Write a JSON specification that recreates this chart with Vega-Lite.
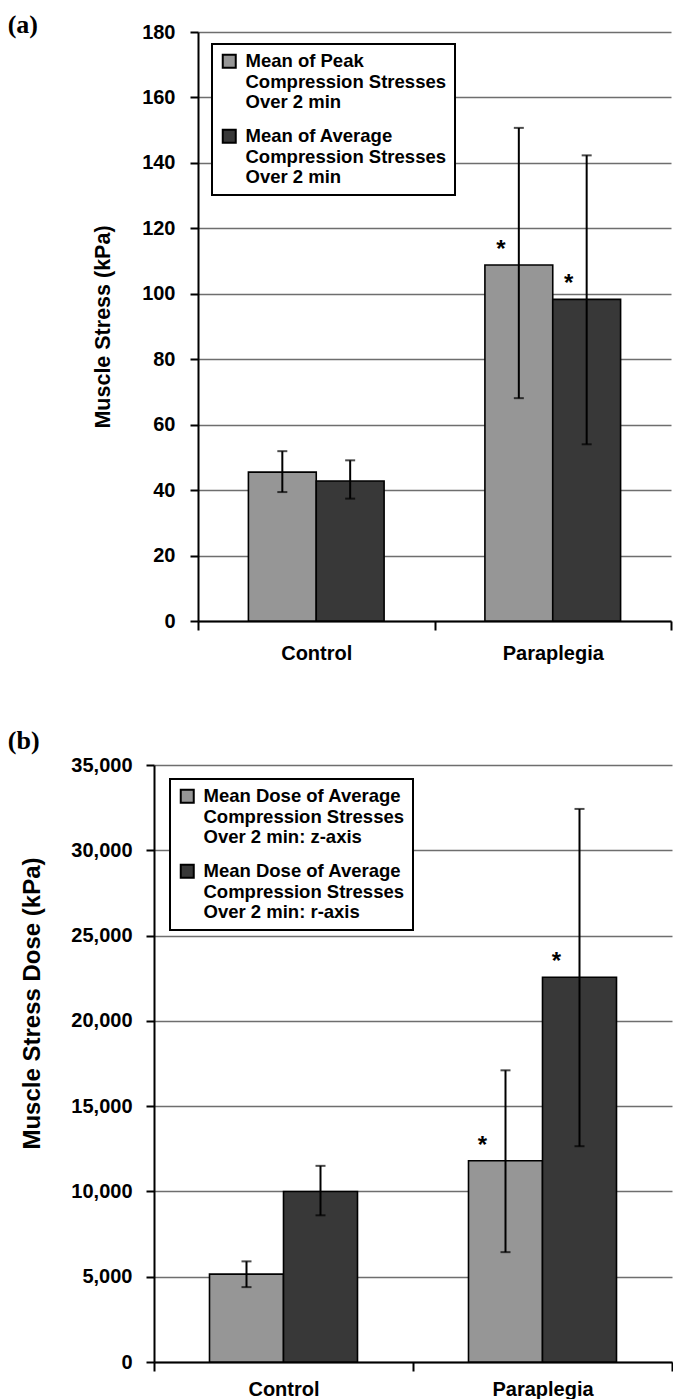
{
  "$schema": "https://vega.github.io/schema/vega-lite/v6.json",
  "padding": {"left": 7, "top": 12, "right": 0, "bottom": 0},
  "background": "white",
  "spacing": 65,
  "resolve": {
    "scale": {"color": "independent", "xOffset": "independent", "x": "independent", "y": "independent"},
    "legend": {"color": "independent"},
    "axis": {"x": "independent", "y": "independent"}
  },
  "datasets": {
    "a": [
      {"group": "Control", "series": "Mean of Peak\nCompression Stresses\nOver 2 min", "value": 45.5, "lo": 39.4, "hi": 51.9, "sig": ""},
      {"group": "Control", "series": "Mean of Average\nCompression Stresses\nOver 2 min", "value": 42.8, "lo": 37.4, "hi": 49.1, "sig": ""},
      {"group": "Paraplegia", "series": "Mean of Peak\nCompression Stresses\nOver 2 min", "value": 108.8, "lo": 68.1, "hi": 150.7, "sig": "*"},
      {"group": "Paraplegia", "series": "Mean of Average\nCompression Stresses\nOver 2 min", "value": 98.3, "lo": 54.0, "hi": 142.3, "sig": "*"}
    ],
    "b": [
      {"group": "Control", "series": "Mean Dose of Average\nCompression Stresses\nOver 2 min: z-axis", "value": 5150, "lo": 4390, "hi": 5900, "sig": ""},
      {"group": "Control", "series": "Mean Dose of Average\nCompression Stresses\nOver 2 min: r-axis", "value": 10000, "lo": 8600, "hi": 11500, "sig": ""},
      {"group": "Paraplegia", "series": "Mean Dose of Average\nCompression Stresses\nOver 2 min: z-axis", "value": 11800, "lo": 6440, "hi": 17100, "sig": "*"},
      {"group": "Paraplegia", "series": "Mean Dose of Average\nCompression Stresses\nOver 2 min: r-axis", "value": 22560, "lo": 12650, "hi": 32425, "sig": "*"}
    ]
  },
  "vconcat": [
    {
      "width": 517,
      "height": 589,
      "data": {"name": "a"},
      "title": {"text": "(a)", "anchor": "start", "frame": "bounds", "font": "Liberation Serif", "fontSize": 26, "fontWeight": "bold", "color": "black", "dx": -85, "offset": -37, "baseline": "alphabetic"},
      "encoding": {
        "x": {"field": "group", "type": "nominal", "sort": ["Control", "Paraplegia"],
              "scale": {"paddingInner": 0, "paddingOuter": 0, "range": [44, 517]},
              "axis": {"title": null, "labelAngle": 0, "tickBand": "extent", "tickSize": 9, "labelPadding": 13, "grid": false}},
        "xOffset": {"field": "series", "type": "nominal",
              "scale": {"domain": ["Mean of Peak\nCompression Stresses\nOver 2 min", "Mean of Average\nCompression Stresses\nOver 2 min"], "paddingInner": 0, "paddingOuter": 0.743}}
      },
      "layer": [
        {
          "mark": {"type": "bar", "stroke": "black", "strokeWidth": 1.6},
          "encoding": {
            "y": {"field": "value", "type": "quantitative",
                  "scale": {"domain": [0, 180], "nice": false},
                  "axis": {"title": "Muscle Stress (kPa)", "values": [0, 20, 40, 60, 80, 100, 120, 140, 160, 180], "grid": true, "offset": -44, "labelPadding": 15, "titlePadding": 27, "titleFontSize": 21.5}},
            "color": {"field": "series", "type": "nominal",
                  "scale": {"domain": ["Mean of Peak\nCompression Stresses\nOver 2 min", "Mean of Average\nCompression Stresses\nOver 2 min"], "range": ["#969696", "#383838"]},
                  "legend": {"orient": "none", "legendX": 58, "legendY": 12, "labelExpr": "split(datum.label, '\\n')"}}
          }
        },
        {
          "mark": {"type": "rule", "color": "black", "strokeWidth": 2},
          "encoding": {"y": {"field": "lo", "type": "quantitative"}, "y2": {"field": "hi"}}
        },
        {
          "mark": {"type": "tick", "color": "black", "thickness": 2, "size": 10, "orient": "horizontal"},
          "encoding": {"y": {"field": "lo", "type": "quantitative"}}
        },
        {
          "mark": {"type": "tick", "color": "black", "thickness": 2, "size": 10, "orient": "horizontal"},
          "encoding": {"y": {"field": "hi", "type": "quantitative"}}
        },
        {
          "mark": {"type": "text", "font": "Liberation Sans", "fontWeight": "bold", "fontSize": 24, "color": "black", "baseline": "alphabetic", "dy": -8, "dx": -18},
          "encoding": {"y": {"field": "value", "type": "quantitative"}, "text": {"field": "sig"}}
        }
      ]
    },
    {
      "width": 518,
      "height": 597,
      "data": {"name": "b"},
      "title": {"text": "(b)", "anchor": "start", "frame": "bounds", "font": "Liberation Serif", "fontSize": 26, "fontWeight": "bold", "color": "black", "dx": -13, "offset": -20, "baseline": "alphabetic"},
      "encoding": {
        "x": {"field": "group", "type": "nominal", "sort": ["Control", "Paraplegia"],
              "scale": {"paddingInner": 0, "paddingOuter": 0},
              "axis": {"title": null, "labelAngle": 0, "tickBand": "extent", "tickSize": 9, "labelPadding": 8, "grid": false}},
        "xOffset": {"field": "series", "type": "nominal",
              "scale": {"domain": ["Mean Dose of Average\nCompression Stresses\nOver 2 min: z-axis", "Mean Dose of Average\nCompression Stresses\nOver 2 min: r-axis"], "paddingInner": 0, "paddingOuter": 0.75}}
      },
      "layer": [
        {
          "mark": {"type": "bar", "stroke": "black", "strokeWidth": 1.6},
          "encoding": {
            "y": {"field": "value", "type": "quantitative",
                  "scale": {"domain": [0, 35000], "nice": false},
                  "axis": {"title": "Muscle Stress Dose (kPa)", "values": [0, 5000, 10000, 15000, 20000, 25000, 30000, 35000], "format": ",d", "grid": true, "labelPadding": 14, "titlePadding": 26, "titleFontSize": 24, "titleY": 238}},
            "color": {"field": "series", "type": "nominal",
                  "scale": {"domain": ["Mean Dose of Average\nCompression Stresses\nOver 2 min: z-axis", "Mean Dose of Average\nCompression Stresses\nOver 2 min: r-axis"], "range": ["#969696", "#383838"]},
                  "legend": {"orient": "none", "legendX": 16, "legendY": 14, "labelExpr": "split(datum.label, '\\n')"}}
          }
        },
        {
          "mark": {"type": "rule", "color": "black", "strokeWidth": 2},
          "encoding": {"y": {"field": "lo", "type": "quantitative"}, "y2": {"field": "hi"}}
        },
        {
          "mark": {"type": "tick", "color": "black", "thickness": 2, "size": 10, "orient": "horizontal"},
          "encoding": {"y": {"field": "lo", "type": "quantitative"}}
        },
        {
          "mark": {"type": "tick", "color": "black", "thickness": 2, "size": 10, "orient": "horizontal"},
          "encoding": {"y": {"field": "hi", "type": "quantitative"}}
        },
        {
          "mark": {"type": "text", "font": "Liberation Sans", "fontWeight": "bold", "fontSize": 24, "color": "black", "baseline": "alphabetic", "dy": -8, "dx": -23},
          "encoding": {"y": {"field": "value", "type": "quantitative"}, "text": {"field": "sig"}}
        }
      ]
    }
  ],
  "config": {
    "view": {"stroke": null},
    "font": "Liberation Sans",
    "axis": {
      "domainColor": "black", "domainWidth": 2,
      "tickColor": "black", "tickWidth": 2, "tickSize": 8,
      "gridColor": "#6e6e6e", "gridWidth": 1.6, "gridOpacity": 1,
      "labelFont": "Liberation Sans", "labelFontWeight": "bold", "labelFontSize": 20, "labelColor": "black",
      "titleFont": "Liberation Sans", "titleFontWeight": "bold", "titleColor": "black"
    },
    "legend": {
      "title": null,
      "fillColor": "white", "strokeColor": "black", "strokeWidth": 2,
      "padding": 8,
      "symbolType": "square", "symbolSize": 169, "symbolStrokeColor": "black", "symbolStrokeWidth": 2, "symbolOpacity": 1,
      "labelFont": "Liberation Sans", "labelFontWeight": "bold", "labelFontSize": 18.5, "labelColor": "black",
      "labelLimit": 400, "labelOffset": 7, "labelBaseline": "middle",
      "rowPadding": 13
    }
  }
}
